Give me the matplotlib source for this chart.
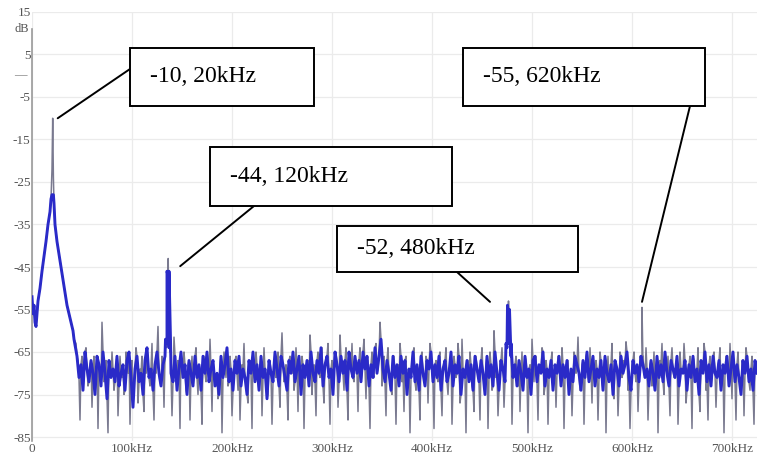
import numpy as np
import matplotlib
matplotlib.use("Agg")
import matplotlib.pyplot as plt
from matplotlib.patches import Rectangle, ConnectionPatch

# ---------------- data (kHz, dB) ----------------
# main lobe around the 20 kHz tone (instantaneous trace)
lobe_freq = [0, 1, 2, 3, 4, 5, 6, 8, 10, 12, 14, 16, 18, 19, 20, 20.7, 21.4, 22,
             23, 25, 27, 29, 31, 33, 35, 37, 39, 41, 42]
lobe_db = [-52, -56, -54, -58, -59, -56, -53, -50, -46, -42.5, -39, -35, -32, -29,
           -22, -10, -24, -30, -35, -39, -42, -45, -48, -51, -54, -56, -58, -60, -62]
# main lobe of the averaged (blue) trace
lobe_avg_freq = [0, 1, 2, 3, 4, 5, 6, 8, 10, 12, 14, 16, 18, 19, 20, 21.4, 22,
                 23, 25, 27, 29, 31, 33, 35, 37, 39, 41, 42]
lobe_avg_db = [-52, -56, -54, -58, -59, -56, -53, -50, -46, -42.5, -39, -35, -32, -29,
               -28, -28, -30, -35, -39, -42, -45, -48, -51, -54, -56, -58, -60, -62]

# noise floor, even-kHz bins from 44 kHz to 724 kHz
noise_a_start = 44
noise_a_db = [
    -63, -67, -81, -66, -70, -64, -73, -68, -78, -66, -71, -83, -69, -58, -72, -67, -84, -70, -65, -74,
    -68, -80, -66, -71, -75, -65, -70, -82, -67, -72, -64, -77, -69, -66, -79, -70, -67, -73, -63, -81,
    -70, -59, -72, -66, -78, -64, -62, -65, -80, -61.5, -70, -67, -83, -69, -65, -74, -68, -81, -66, -71,
    -64, -75, -69, -82, -66, -72, -67, -62, -79, -70, -73, -76, -68, -84, -65, -71, -73, -66, -80, -69,
    -66, -74, -81, -68, -63, -71, -77, -67, -83, -70, -65, -72, -69, -80, -64, -70, -75, -67, -82, -68,
    -71, -65, -78, -60.5, -72, -68, -81, -66, -70, -74, -64, -79, -69, -66, -83, -70, -67, -61, -75, -68,
    -80, -65, -71, -64, -77, -68, -63, -82, -67, -70, -65, -78, -61, -69, -74, -64, -81, -67, -63, -72,
    -68, -79, -64, -70, -62, -76, -67, -83, -65, -71, -63, -69, -58, -73, -66, -80, -64, -70, -75, -66,
    -82, -68, -63, -72, -79, -66, -70, -84, -67, -64, -74, -69, -81, -65, -71, -66, -77, -63, -70, -83,
    -67, -72, -65, -80, -69, -64, -75, -68, -82, -66, -71, -63, -77, -62, -70, -84, -67, -65, -73, -79,
    -66, -70, -81, -64, -72, -68, -83, -65, -74, -60, -71, -80, -67, -64, -78, -63, -62, -65, -82, -69,
    -66, -73, -79, -65, -70, -67, -84, -68, -62, -72, -66, -81, -69, -64, -75, -67, -82, -70, -65, -71,
    -78, -66, -69, -64, -83, -70, -67, -73, -80, -65, -70, -61.5, -74, -68, -82, -66, -71, -64, -77, -69,
    -67, -81, -65, -72, -68, -84, -66, -70, -63, -76, -69, -80, -65, -71, -67, -62.6, -74, -83, -68, -65,
    -72, -79, -66, -66, -70, -64, -81, -68, -73, -65, -70, -84, -67, -63, -75, -69, -66, -80, -64, -71,
    -68, -82, -65, -70, -63, -77, -69, -66, -83, -67, -72, -64, -79, -68, -63, -74, -81, -66, -70, -65,
    -78, -68, -64, -72, -84, -66, -69, -63, -76, -70, -81, -65, -71, -67, -80, -64, -70, -74, -66, -82,
    -68,
]
# noise floor, odd-kHz bins from 45 kHz to 725 kHz (also the averaged trace)
noise_b_start = 45
noise_b_db = [
    -66, -71, -68, -74, -65, -69, -72, -67, -70, -75, -66, -68, -73, -65, -70, -76, -67, -71, -69, -72,
    -66, -73, -70, -68, -74, -67, -65, -71, -78, -69, -66, -72, -70, -75, -67, -64, -71, -69, -74, -68,
    -65, -70, -73, -68, -66, -63, -64, -70, -72, -66, -74, -69, -65, -71, -68, -75, -67, -70, -73, -66,
    -71, -68, -74, -66, -70, -65, -72, -69, -67, -73, -70, -75, -66, -71, -68, -64, -72, -69, -74, -67,
    -70, -66, -73, -69, -71, -75, -67, -70, -65, -72, -68, -74, -66, -71, -69, -76, -67, -70, -72, -65,
    -69, -73, -66, -68, -71, -74, -67, -70, -65, -72, -69, -66, -75, -68, -71, -67, -73, -65, -70, -72,
    -67, -70, -64, -73, -68, -66, -71, -69, -75, -65, -68, -72, -66, -70, -67, -74, -65, -69, -71, -66,
    -70, -67, -72, -65, -69, -66, -73, -68, -71, -64, -70, -66, -62, -69, -72, -67, -70, -74, -66, -71,
    -68, -73, -66, -70, -67, -75, -69, -71, -65, -72, -68, -74, -66, -70, -73, -67, -69, -65, -72, -68,
    -71, -66, -74, -69, -67, -72, -70, -65, -73, -68, -70, -66, -75, -69, -71, -67, -72, -68, -74, -66,
    -69, -72, -67, -70, -75, -66, -71, -68, -73, -65, -70, -74, -67, -69, -72, -64, -63, -66, -71, -68,
    -73, -67, -70, -74, -66, -71, -69, -75, -67, -66, -72, -68, -70, -65, -73, -69, -71, -67, -74, -68,
    -70, -66, -73, -68, -71, -67, -75, -69, -72, -66, -68, -70, -74, -67, -71, -65, -72, -69, -66, -73,
    -69, -71, -67, -74, -66, -70, -72, -68, -75, -67, -69, -73, -66, -70, -68, -65, -71, -74, -67, -70,
    -68, -72, -66, -68, -71, -69, -73, -67, -70, -74, -66, -71, -68, -72, -65, -70, -73, -67, -69, -71,
    -66, -73, -69, -70, -67, -74, -68, -71, -66, -72, -69, -75, -67, -70, -65, -72, -68, -73, -66, -70,
    -71, -67, -74, -68, -70, -66, -73, -69, -65, -72, -68, -71, -75, -67, -70, -66, -72, -69, -74, -67,
    -70,
]
noise_a_freq = noise_a_start + 2 * np.arange(len(noise_a_db))
noise_b_freq = noise_b_start + 2 * np.arange(len(noise_b_db))

# narrow spurs (120 kHz, 480 kHz, 620 kHz), instantaneous trace
spur_freq = [133.5, 135, 136.2, 137, 138.5, 474, 475.5, 476.5, 477.5, 479, 609, 610, 611]
spur_db = [-62, -46, -43, -46, -62, -63, -54, -53, -55, -63, -66, -54.5, -66]
# spurs in the averaged trace
spur_avg_freq = [133.5, 135, 136, 137, 138.5, 474, 475.5, 476.5, 477.5, 479]
spur_avg_db = [-62, -46, -47, -46, -62, -63, -54, -56, -55, -63]

# annotated peaks
peak_freq = [20.7, 136.2, 476.5, 610]
peak_db = [-10, -43, -53, -54.5]
peak_labels = ["-10, 20kHz", "-44, 120kHz", "-52, 480kHz", "-55, 620kHz"]

x_ticks = [0, 100, 200, 300, 400, 500, 600, 700]
x_tick_labels = ["0", "100kHz", "200kHz", "300kHz", "400kHz", "500kHz", "600kHz", "700kHz"]
y_ticks = [15, 5, -5, -15, -25, -35, -45, -55, -65, -75, -85]
y_tick_labels = ["15", "5", "-5", "-15", "-25", "-35", "-45", "-55", "-65", "-75", "-85"]

# ---------------- figure ----------------
W, H = 757, 457
fig = plt.figure(figsize=(W / 100, H / 100), dpi=100)
fig.patch.set_facecolor("white")
ax = fig.add_axes([32 / W, 15.75 / H, 725 / W, 429.25 / H])
ax.set_xlim(0, 725)
ax.set_ylim(-86, 15)


def merged(freq_parts, db_parts):
    f = np.concatenate(freq_parts)
    d = np.concatenate(db_parts)
    o = np.argsort(f, kind="stable")
    return f[o], d[o]


tr_f, tr_d = merged([lobe_freq, noise_a_freq, noise_b_freq, spur_freq],
                    [lobe_db, noise_a_db, noise_b_db, spur_db])
av_f, av_d = merged([lobe_avg_freq, noise_b_freq, spur_avg_freq],
                    [lobe_avg_db, noise_b_db, spur_avg_db])

ax.plot(tr_f, tr_d, color="#7a7a90", lw=1.1, zorder=3)
ax.plot(av_f, av_d, color="#2a2ac8", lw=2.1, zorder=4)

# axes styling
for s in ["top", "right", "bottom"]:
    ax.spines[s].set_visible(False)
ax.spines["left"].set_color("#9a9a9a")
ax.spines["left"].set_linewidth(1.2)
ax.spines["left"].set_bounds(-86, 11)

ax.set_xticks(x_ticks)
ax.set_xticklabels(x_tick_labels)
ax.set_yticks(y_ticks)
ax.set_yticklabels(y_tick_labels)
ax.tick_params(length=0, labelsize=9.5, labelcolor="#555555", pad=1)
for lab in ax.get_xticklabels() + ax.get_yticklabels():
    lab.set_family("Liberation Serif")
ax.grid(True, color="#ebebeb", lw=0.9, zorder=0)
ax.set_axisbelow(True)

fig.text(22 / W, 1 - 29 / H, "dB", ha="center", va="center", fontsize=9,
         color="#555555", family="Liberation Serif")
fig.text(20 / W, 1 - 75 / H, "\u2014", ha="center", va="center", fontsize=9,
         color="#777777", family="Liberation Serif")

# annotation boxes (pixel layout, top-left origin)
boxes = [(130, 48, 314, 106), (210, 147, 452, 206), (337, 226, 578, 272), (463, 48, 705, 106)]
anchors = [(130, 69), (254, 206), (457, 272), (690, 106)]
tip_offsets = [(5, 0), (12, -1.8), (-18.5, -0.2), (0, 1.3)]

for (x0, y0, x1, y1), (axp, ayp), (dx, dy), pf, pd, lab in zip(
        boxes, anchors, tip_offsets, peak_freq, peak_db, peak_labels):
    r = Rectangle((x0 / W, 1 - y1 / H), (x1 - x0) / W, (y1 - y0) / H,
                  transform=fig.transFigure, facecolor="white", edgecolor="black",
                  lw=1.4, zorder=10)
    fig.add_artist(r)
    fig.text((x0 + 20) / W, 1 - (y0 + y1) / 2 / H, lab, ha="left", va="center",
             fontsize=17, family="Liberation Serif", color="black", zorder=11)
    con = ConnectionPatch(xyA=(axp / W, 1 - ayp / H), coordsA=fig.transFigure,
                          xyB=(pf + dx, pd + dy), coordsB=ax.transData,
                          color="black", lw=1.4, zorder=9)
    fig.add_artist(con)

fig.savefig("out.png", dpi=100, facecolor="white")
